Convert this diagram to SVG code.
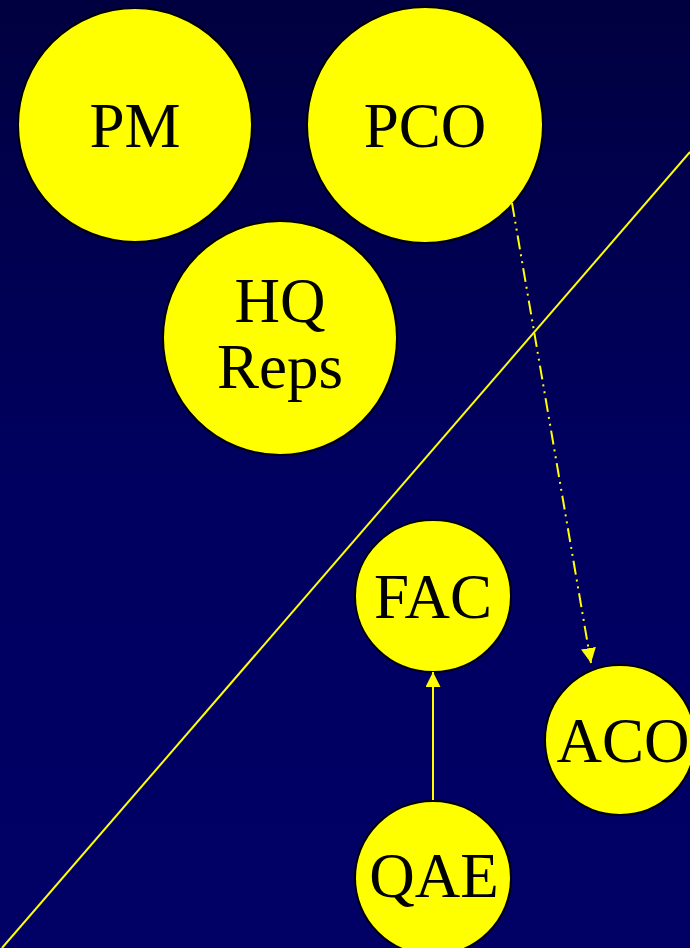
<svg xmlns="http://www.w3.org/2000/svg" width="690" height="948" viewBox="0 0 690 948">
<defs>
<linearGradient id="bg" x1="0" y1="0" x2="0" y2="1">
<stop offset="0" stop-color="#000040"/>
<stop offset="0.5" stop-color="#000060"/>
<stop offset="1" stop-color="#000066"/>
</linearGradient>
<marker id="ah" viewBox="0 0 10 10" refX="10" refY="5" markerWidth="15" markerHeight="15" markerUnits="userSpaceOnUse" orient="auto">
<path d="M0,0 L10,5 L0,10 Z" fill="#ffff00"/>
</marker>
<style>
.node{fill:#ffff00;stroke:#000;stroke-width:2}
.lbl{font-family:"Liberation Serif","Times New Roman",serif;font-size:63px;fill:#000;text-anchor:middle}
.conn{stroke:#ffff00;stroke-width:2;fill:none}
</style>
</defs>
<rect width="690" height="948" fill="url(#bg)"/>
<line x1="690" y1="152" x2="2" y2="948" stroke="#ffff00" stroke-width="2"/>
<g id="PM"><circle class="node" cx="135" cy="125" r="117"/><text class="lbl" x="135" y="147">PM</text></g>
<g id="PCO"><circle class="node" cx="425" cy="125" r="118"/><text class="lbl" x="425" y="147">PCO</text></g>
<g id="HQReps"><circle class="node" cx="280" cy="338" r="117"/><text class="lbl" x="280" y="322">HQ</text><text class="lbl" x="280" y="388">Reps</text></g>
<g id="FAC"><ellipse class="node" cx="433" cy="596" rx="78" ry="76"/><text class="lbl" x="433" y="618">FAC</text></g>
<g id="ACO"><circle class="node" cx="620" cy="740" r="75"/><text class="lbl" x="623" y="762">ACO</text></g>
<g id="QAE"><ellipse class="node" cx="433" cy="878" rx="78" ry="77"/><text class="lbl" x="434" y="897">QAE</text></g>
<g id="connectors">
<line class="conn" x1="512" y1="203" x2="591" y2="663" stroke-dasharray="14,5,2,5,2,5" marker-end="url(#ah)"/>
<line class="conn" x1="433" y1="800" x2="433" y2="672" marker-end="url(#ah)"/>
</g>
</svg>
